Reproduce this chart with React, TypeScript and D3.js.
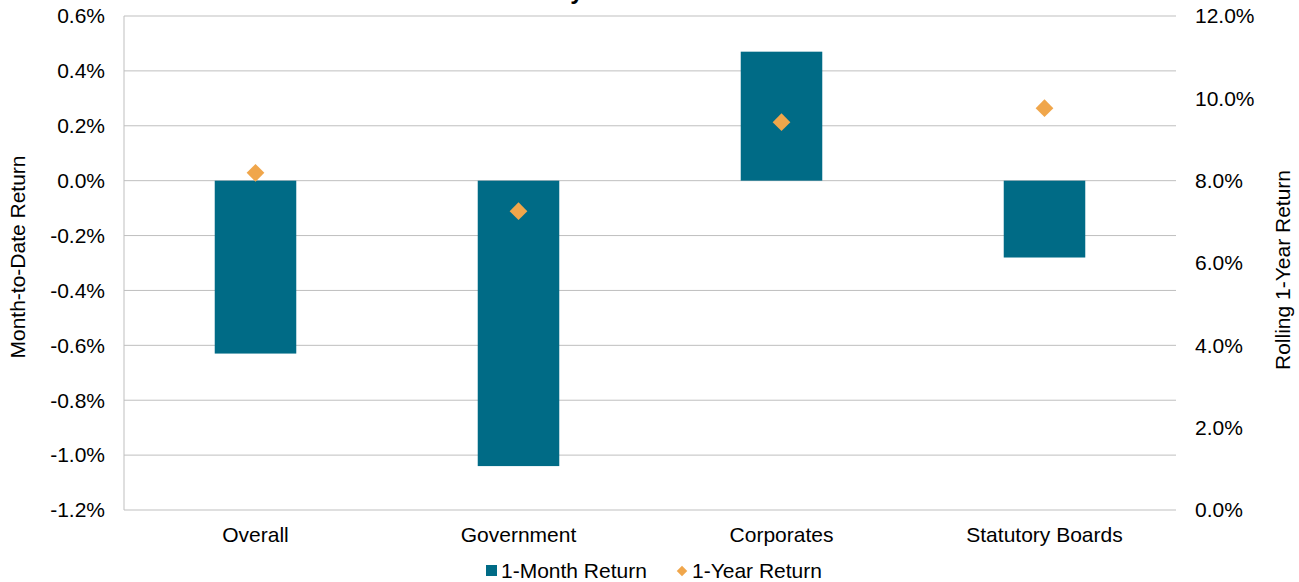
import React from "react";
import * as d3 from "d3";

const categories = ["Overall", "Government", "Corporates", "Statutory Boards"];
const monthReturn = [-0.63, -1.04, 0.47, -0.28];
const yearReturn = [8.19, 7.26, 9.42, 9.76];
const leftTicks = [0.6, 0.4, 0.2, 0.0, -0.2, -0.4, -0.6, -0.8, -1.0, -1.2];
const rightTicks = [12, 10, 8, 6, 4, 2, 0];

const W = 1299;
const H = 582;
const M = { left: 124, right: 1176, top: 16, bottom: 510 };
const FONT = "Liberation Sans, Arial, sans-serif";
const BAR = "#006B86";
const DIAM = "#F0A64B";
const GRID = "#BFBFBF";
const FS = 21;

export default function App() {
  const x = d3.scaleBand<string>().domain(categories).range([M.left, M.right]).paddingInner(0.69).paddingOuter(0.345);
  const yL = d3.scaleLinear().domain([-1.2, 0.6]).range([M.bottom, M.top]);
  const yR = d3.scaleLinear().domain([0, 12]).range([M.bottom, M.top]);
  const diamond = d3.symbol().type(d3.symbolDiamond2).size(200)();
  const legDiamond = d3.symbol().type(d3.symbolDiamond2).size(70)();
  return (
    <svg width={W} height={H} style={{ position: "absolute", left: 0, top: 0, background: "#fff" }} fontFamily={FONT}>
      <text x={655} y={-1} textAnchor="middle" fontSize={24} fontWeight="bold" fill="#000">Monthly Sector Performance</text>
      {leftTicks.map((t) => (
        <g key={"l" + t}>
          <line x1={M.left} x2={M.right} y1={yL(t)} y2={yL(t)} stroke={GRID} strokeWidth={1} />
          <text x={105} y={yL(t)} dy="0.35em" textAnchor="end" fontSize={FS} fill="#000">{t.toFixed(1) + "%"}</text>
        </g>
      ))}
      <line x1={M.left} x2={M.left} y1={M.top} y2={M.bottom} stroke={GRID} strokeWidth={1} />
      {rightTicks.map((t) => (
        <text key={"r" + t} x={1195} y={yR(t)} dy="0.35em" textAnchor="start" fontSize={FS} fill="#000">{t.toFixed(1) + "%"}</text>
      ))}
      {categories.map((c, i) => {
        const v = monthReturn[i];
        return (
          <rect key={c} x={x(c)!} width={x.bandwidth()} y={Math.min(yL(v), yL(0))} height={Math.abs(yL(v) - yL(0))} fill={BAR} />
        );
      })}
      {categories.map((c, i) => (
        <path key={"d" + c} d={diamond!} transform={`translate(${x(c)! + x.bandwidth() / 2},${yR(yearReturn[i])})`} fill={DIAM} />
      ))}
      {categories.map((c) => (
        <text key={"c" + c} x={x(c)! + x.bandwidth() / 2} y={542} textAnchor="middle" fontSize={FS} fill="#000">{c}</text>
      ))}
      <text transform={`translate(25,257) rotate(-90)`} textAnchor="middle" fontSize={FS} fill="#000">Month-to-Date Return</text>
      <text transform={`translate(1290,270) rotate(-90)`} textAnchor="middle" fontSize={FS} fill="#000">Rolling 1-Year Return</text>
      <rect x={486} y={565} width={11} height={11} fill={BAR} />
      <text x={501} y={578} fontSize={FS} fill="#000">1-Month Return</text>
      <path d={legDiamond!} transform="translate(682,571)" fill={DIAM} />
      <text x={692} y={578} fontSize={FS} fill="#000">1-Year Return</text>
    </svg>
  );
}
